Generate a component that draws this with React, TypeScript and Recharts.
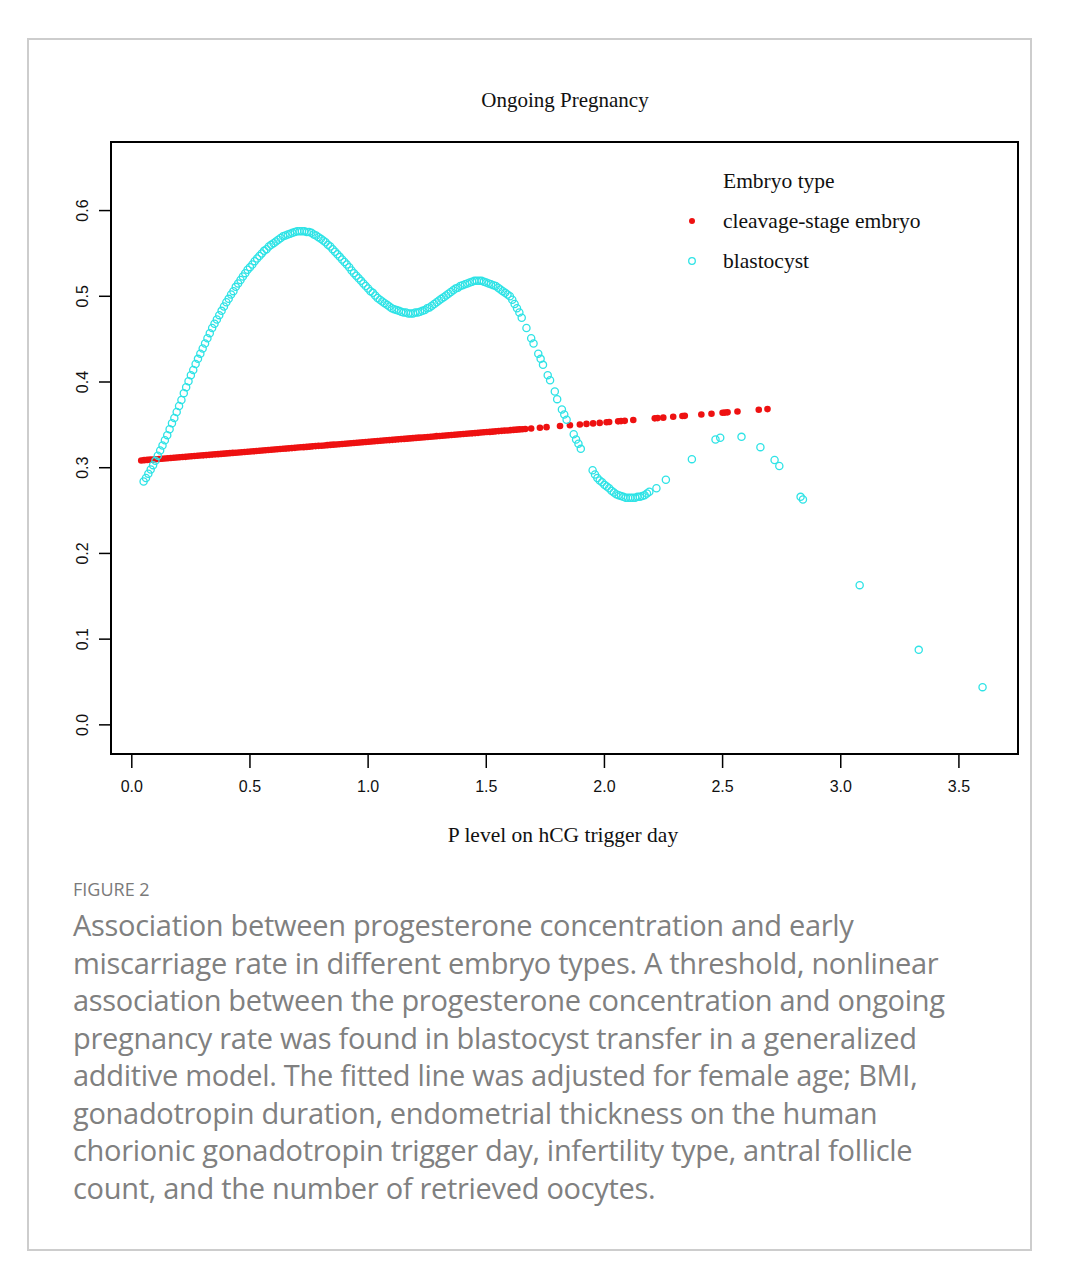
import { ScatterChart, Scatter, XAxis, YAxis, ReferenceArea } from "recharts"

// P level on hCG trigger day (x) vs. predicted ongoing pregnancy rate (y)
const cleavageX = [
  0.04, 0.0525, 0.065, 0.0775, 0.09, 0.1025, 0.115, 0.1275, 0.14, 0.1525, 0.165, 0.1775, 0.19, 0.2025,
  0.215, 0.2275, 0.24, 0.2525, 0.265, 0.2775, 0.29, 0.3025, 0.315, 0.3275, 0.34, 0.3525, 0.365, 0.3775,
  0.39, 0.4025, 0.415, 0.4275, 0.44, 0.4525, 0.465, 0.4775, 0.49, 0.5025, 0.515, 0.5275, 0.54, 0.5525,
  0.565, 0.5775, 0.59, 0.6025, 0.615, 0.6275, 0.64, 0.6525, 0.665, 0.6775, 0.69, 0.7025, 0.715, 0.7275,
  0.74, 0.7525, 0.765, 0.7775, 0.79, 0.8025, 0.815, 0.8275, 0.84, 0.8525, 0.865, 0.8775, 0.89, 0.9025,
  0.915, 0.9275, 0.94, 0.9525, 0.965, 0.9775, 0.99, 1.0025, 1.015, 1.0275, 1.04, 1.0525, 1.065, 1.0775,
  1.09, 1.1025, 1.115, 1.1275, 1.14, 1.1525, 1.165, 1.1775, 1.19, 1.2025, 1.215, 1.2275, 1.24, 1.2525,
  1.265, 1.2775, 1.29, 1.3025, 1.315, 1.3275, 1.34, 1.3525, 1.365, 1.3775, 1.39, 1.4025, 1.415, 1.4275,
  1.44, 1.4525, 1.465, 1.4775, 1.49, 1.5025, 1.515, 1.5275, 1.54, 1.5525, 1.565, 1.5775, 1.59, 1.6025,
  1.615, 1.6275, 1.64, 1.6525, 1.665, 1.69, 1.727, 1.755, 1.812, 1.854, 1.896, 1.924, 1.952, 1.98,
  2.009, 2.02, 2.058, 2.07, 2.086, 2.122, 2.213, 2.225, 2.249, 2.291, 2.33, 2.34, 2.41, 2.453, 2.5,
  2.51, 2.521, 2.563, 2.653, 2.69,
]
const cleavageY = [
  0.3085, 0.3088, 0.3091, 0.3094, 0.3096, 0.3099, 0.3102, 0.3105, 0.3108, 0.311, 0.3113, 0.3116, 0.3119, 0.3122,
  0.3125, 0.3127, 0.313, 0.3133, 0.3136, 0.3139, 0.3142, 0.3144, 0.3147, 0.315, 0.3153, 0.3156, 0.3158, 0.3161,
  0.3164, 0.3167, 0.317, 0.3173, 0.3175, 0.3178, 0.3181, 0.3184, 0.3187, 0.319, 0.3192, 0.3195, 0.3198, 0.3201,
  0.3204, 0.3207, 0.3209, 0.3212, 0.3215, 0.3218, 0.3221, 0.3223, 0.3226, 0.3229, 0.3232, 0.3235, 0.3238, 0.324,
  0.3243, 0.3246, 0.3249, 0.3252, 0.3255, 0.3257, 0.326, 0.3263, 0.3266, 0.3269, 0.3271, 0.3274, 0.3277, 0.328,
  0.3283, 0.3286, 0.3288, 0.3291, 0.3294, 0.3297, 0.33, 0.3303, 0.3305, 0.3308, 0.3311, 0.3314, 0.3317, 0.332,
  0.3322, 0.3325, 0.3328, 0.3331, 0.3334, 0.3336, 0.3339, 0.3342, 0.3345, 0.3348, 0.3351, 0.3353, 0.3356, 0.3359,
  0.3362, 0.3365, 0.3368, 0.337, 0.3373, 0.3376, 0.3379, 0.3382, 0.3384, 0.3387, 0.339, 0.3393, 0.3396, 0.3399,
  0.3401, 0.3404, 0.3407, 0.341, 0.3413, 0.3416, 0.3418, 0.3421, 0.3424, 0.3427, 0.343, 0.3433, 0.3435, 0.3438,
  0.3441, 0.3444, 0.3447, 0.3449, 0.3452, 0.3458, 0.3466, 0.3473, 0.3486, 0.3495, 0.3504, 0.3511, 0.3517, 0.3523,
  0.353, 0.3533, 0.3541, 0.3544, 0.3547, 0.3556, 0.3576, 0.3579, 0.3584, 0.3594, 0.3603, 0.3605, 0.3621, 0.363, 0.3641,
  0.3643, 0.3646, 0.3655, 0.3676, 0.3684,
]

const blastX = [
  0.05, 0.06, 0.07, 0.08, 0.09, 0.1, 0.11, 0.12, 0.13, 0.14, 0.15, 0.16, 0.17, 0.18, 0.19, 0.2,
  0.21, 0.22, 0.23, 0.24, 0.25, 0.26, 0.27, 0.28, 0.29, 0.3, 0.31, 0.32, 0.33, 0.34, 0.35, 0.36,
  0.37, 0.38, 0.39, 0.4, 0.41, 0.42, 0.43, 0.44, 0.45, 0.46, 0.47, 0.48, 0.49, 0.5, 0.51, 0.52,
  0.53, 0.54, 0.55, 0.56, 0.57, 0.58, 0.59, 0.6, 0.61, 0.62, 0.63, 0.64, 0.65, 0.66, 0.67, 0.68,
  0.69, 0.7, 0.71, 0.72, 0.73, 0.74, 0.75, 0.76, 0.77, 0.78, 0.79, 0.8, 0.81, 0.82, 0.83, 0.84,
  0.85, 0.86, 0.87, 0.88, 0.89, 0.9, 0.91, 0.92, 0.93, 0.94, 0.95, 0.96, 0.97, 0.98, 0.99, 1.0,
  1.01, 1.02, 1.03, 1.04, 1.05, 1.06, 1.07, 1.08, 1.09, 1.1, 1.11, 1.12, 1.13, 1.14, 1.15, 1.16,
  1.17, 1.18, 1.19, 1.2, 1.21, 1.22, 1.23, 1.24, 1.25, 1.26, 1.27, 1.28, 1.29, 1.3, 1.31, 1.32,
  1.33, 1.34, 1.35, 1.36, 1.37, 1.38, 1.39, 1.4, 1.41, 1.42, 1.43, 1.44, 1.45, 1.46, 1.47, 1.48,
  1.49, 1.5, 1.51, 1.52, 1.53, 1.54, 1.55, 1.56, 1.57, 1.58, 1.59, 1.6, 1.61, 1.62, 1.63, 1.64,
  1.65, 1.67, 1.69, 1.7, 1.72, 1.73, 1.74, 1.76, 1.77, 1.79, 1.8, 1.82, 1.83, 1.84, 1.87, 1.88,
  1.89, 1.9, 1.95, 1.96, 1.97, 1.98, 1.99, 2.0, 2.01, 2.02, 2.03, 2.04, 2.05, 2.06, 2.07, 2.08,
  2.09, 2.1, 2.11, 2.12, 2.13, 2.14, 2.15, 2.16, 2.17, 2.18, 2.19, 2.22, 2.26, 2.37, 2.47, 2.49,
  2.58, 2.66, 2.72, 2.74, 2.83, 2.84, 3.08, 3.33, 3.6,
]
const blastY = [
  0.284, 0.288, 0.293, 0.298, 0.303, 0.308, 0.314, 0.32, 0.326, 0.332, 0.338, 0.345, 0.352, 0.358, 0.365, 0.372,
  0.379, 0.387, 0.394, 0.401, 0.408, 0.414, 0.421, 0.427, 0.433, 0.439, 0.445, 0.451, 0.457, 0.463, 0.468, 0.473,
  0.478, 0.483, 0.488, 0.493, 0.497, 0.502, 0.506, 0.511, 0.515, 0.519, 0.523, 0.527, 0.531, 0.534, 0.537, 0.541,
  0.544, 0.547, 0.55, 0.553, 0.555, 0.558, 0.56, 0.562, 0.564, 0.566, 0.568, 0.57, 0.571, 0.572, 0.573, 0.574,
  0.575, 0.576, 0.576, 0.576, 0.576, 0.575, 0.575, 0.574, 0.572, 0.571, 0.569, 0.567, 0.565, 0.563, 0.56, 0.558,
  0.555, 0.552, 0.549, 0.546, 0.543, 0.54, 0.537, 0.534, 0.53, 0.527, 0.524, 0.521, 0.518, 0.515, 0.512, 0.509,
  0.506, 0.504, 0.501, 0.498, 0.496, 0.494, 0.492, 0.49, 0.488, 0.486, 0.485, 0.484, 0.483, 0.482, 0.481, 0.481,
  0.48, 0.48, 0.48, 0.481, 0.481, 0.482, 0.483, 0.484, 0.486, 0.487, 0.489, 0.491, 0.493, 0.495, 0.497, 0.499,
  0.501, 0.503, 0.505, 0.507, 0.509, 0.51, 0.512, 0.513, 0.514, 0.515, 0.516, 0.517, 0.518, 0.518, 0.518, 0.518,
  0.517, 0.516, 0.515, 0.514, 0.513, 0.512, 0.51, 0.508, 0.506, 0.504, 0.502, 0.5, 0.496, 0.491, 0.486, 0.481,
  0.475, 0.463, 0.451, 0.445, 0.433, 0.427, 0.42, 0.408, 0.402, 0.389, 0.38, 0.368, 0.362, 0.356, 0.339, 0.333,
  0.328, 0.322, 0.297, 0.292, 0.288, 0.285, 0.283, 0.28, 0.278, 0.276, 0.273, 0.271, 0.269, 0.268, 0.267, 0.266,
  0.265, 0.265, 0.265, 0.265, 0.265, 0.266, 0.266, 0.267, 0.268, 0.27, 0.272, 0.276, 0.286, 0.31, 0.333, 0.335,
  0.336, 0.324, 0.309, 0.302, 0.266, 0.263, 0.163, 0.0875, 0.044,
]

const xTicks = [0, 0.5, 1, 1.5, 2, 2.5, 3, 3.5]
const yTicks = [0, 0.1, 0.2, 0.3, 0.4, 0.5, 0.6]
const seriesNames = ["cleavage-stage embryo", "blastocyst"]

const cleavageData = cleavageX.map((x, i) => ({ x, y: cleavageY[i] }))
const blastData = blastX.map((x, i) => ({ x, y: blastY[i] }))

const RED = "#ee1111"
const CYAN = "#2ee3e6"
const SERIF = "'Liberation Serif', 'Times New Roman', serif"
const SANS = "'Liberation Sans', Arial, sans-serif"

const xDomain = [-0.088, 3.75]
const yDomain = [-0.034, 0.68]

const RedDot = (props: any) => <circle cx={props.cx} cy={props.cy} r={3.3} fill={RED} />
const CyanRing = (props: any) => (
  <circle cx={props.cx} cy={props.cy} r={3.6} fill="none" stroke={CYAN} strokeWidth={1.3} />
)

const YTick = (props: any) => {
  const { x, y, payload } = props
  const bx = x - 9
  return (
    <text x={bx} y={y} transform={`rotate(-90, ${bx}, ${y})`} textAnchor="middle"
      fontFamily={SANS} fontSize={16} fill="#111">
      {payload.value.toFixed(1)}
    </text>
  )
}

const captionLines = [
  "Association between progesterone concentration and early",
  "miscarriage rate in different embryo types. A threshold, nonlinear",
  "association between the progesterone concentration and ongoing",
  "pregnancy rate was found in blastocyst transfer in a generalized",
  "additive model. The fitted line was adjusted for female age; BMI,",
  "gonadotropin duration, endometrial thickness on the human",
  "chorionic gonadotropin trigger day, infertility type, antral follicle",
  "count, and the number of retrieved oocytes.",
]

export default function App() {
  return (
    <div style={{ position: "relative", width: 1071, height: 1286, background: "#fff" }}>
      <style>{`body{margin:0}`}</style>

      {/* card border */}
      <div style={{
        position: "absolute", left: 27, top: 38, width: 1005, height: 1213,
        border: "2px solid #cdcdcd", boxSizing: "border-box",
      }} />

      {/* Chart */}
      <div style={{ position: "absolute", left: 0, top: 0 }}>
        <ScatterChart width={1071} height={880} margin={{ top: 142, right: 53, left: 51, bottom: 76 }}>
          <XAxis type="number" dataKey="x" domain={xDomain} ticks={xTicks} allowDataOverflow
            axisLine={false} tickSize={14} tickMargin={13} height={50}
            tickLine={{ stroke: "#000", strokeWidth: 1.5 }}
            tick={{ fontFamily: SANS, fontSize: 16, fill: "#111" }}
            tickFormatter={(v: number) => v.toFixed(1)} />
          <YAxis type="number" dataKey="y" domain={yDomain} ticks={yTicks} allowDataOverflow
            axisLine={false} tickSize={12} width={60}
            tickLine={{ stroke: "#000", strokeWidth: 1.5 }} tick={<YTick />} />
          <ReferenceArea x1={xDomain[0]} x2={xDomain[1]} y1={yDomain[0]} y2={yDomain[1]}
            fill="none" fillOpacity={0} stroke="#000" strokeWidth={2} ifOverflow="visible" />
          <Scatter name={seriesNames[0]} data={cleavageData} shape={RedDot} isAnimationActive={false} />
          <Scatter name={seriesNames[1]} data={blastData} shape={CyanRing} isAnimationActive={false} />
        </ScatterChart>
      </div>

      {/* Title */}
      <div style={{ position: "absolute", left: 0, width: 1130, top: 88, textAlign: "center",
        fontFamily: SERIF, fontSize: 21, color: "#111" }}>
        Ongoing Pregnancy
      </div>

      {/* Legend */}
      <div style={{ position: "absolute", left: 683, top: 161, fontFamily: SERIF, fontSize: 21.5,
        color: "#111", lineHeight: "40px" }}>
        <div style={{ marginLeft: 40, height: 40 }}>Embryo type</div>
        {seriesNames.map((name, i) => (
          <div key={name} style={{ display: "flex", alignItems: "center", height: 40 }}>
            <svg width={20} height={20} style={{ marginRight: 20 }}>
              {i === 0
                ? <circle cx={9} cy={10} r={3} fill={RED} />
                : <circle cx={9} cy={10} r={3.3} fill="none" stroke={CYAN} strokeWidth={1.3} />}
            </svg>
            <span>{name}</span>
          </div>
        ))}
      </div>

      {/* X axis label */}
      <div style={{ position: "absolute", left: 0, width: 1126, top: 823, textAlign: "center",
        fontFamily: SERIF, fontSize: 21.5, color: "#111" }}>
        P level on hCG trigger day
      </div>

      {/* Caption */}
      <div style={{ position: "absolute", left: 73, top: 877, fontFamily: "'Open Sans', sans-serif",
        fontSize: 18, color: "#7a7a7a" }}>
        FIGURE 2
      </div>
      <div style={{ position: "absolute", left: 73, top: 906, fontFamily: "'Open Sans', sans-serif",
        fontSize: 29, letterSpacing: -0.3, lineHeight: "37.5px", color: "#808080" }}>
        {captionLines.map((l) => <div key={l} style={{ whiteSpace: "nowrap" }}>{l}</div>)}
      </div>
    </div>
  )
}
